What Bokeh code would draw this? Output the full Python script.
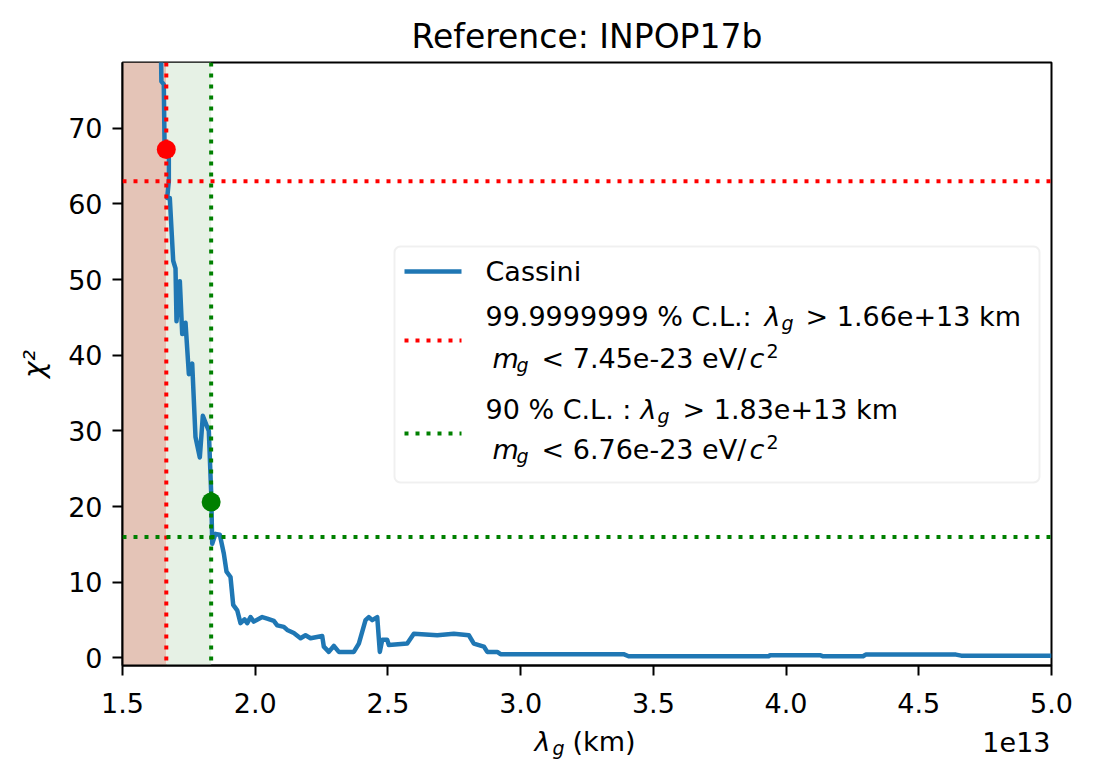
from bokeh.plotting import figure
from bokeh.models import Span, BoxAnnotation, Label, FixedTicker, NumeralTickFormatter, Range1d
from bokeh.layouts import column
from bokeh.core.properties import value
from bokeh.embed import file_html
from bokeh.resources import INLINE

# ---------------- data ----------------
# lambda_g in units of 1e13 km
lam_1e13 = [1.640, 1.6455, 1.6465, 1.6556, 1.6583, 1.6745, 1.6745, 1.6684, 1.6782, 1.6910,
            1.6997, 1.7035, 1.7160, 1.7250, 1.7374, 1.7500, 1.7626, 1.7750, 1.7913, 1.8026,
            1.8252, 1.8342, 1.8380, 1.8504, 1.8666, 1.8817, 1.8919, 1.9069, 1.9171, 1.9322,
            1.9446, 1.9597, 1.9699, 1.9823, 1.9947, 2.0264, 2.0452, 2.0701, 2.0829, 2.1078,
            2.1206, 2.1454, 2.1707, 2.1895, 2.2084, 2.2524, 2.2585, 2.2773, 2.2962, 2.3150,
            2.3715, 2.3904, 2.4156, 2.4280, 2.4408, 2.4597, 2.4695, 2.4785, 2.4974, 2.5034,
            2.5727, 2.5976, 2.6858, 2.7483, 2.8048, 2.8237, 2.8614, 2.8742, 2.9118, 2.9243,
            3.3877, 3.4066, 3.9340, 3.9400, 4.1300, 4.1400, 4.2900, 4.3000, 4.6400, 4.6600,
            5.0000]
chi2 = [84.0, 78.8, 76.2, 75.8, 68.2, 66.0, 63.0, 60.8, 60.8, 52.5,
        51.5, 44.5, 49.8, 42.8, 44.3, 37.5, 38.9, 29.2, 26.5, 32.0,
        30.0, 21.7, 15.1, 16.4, 16.3, 13.8, 11.4, 10.7, 7.0, 6.3,
        4.6, 5.1, 4.6, 5.4, 4.8, 5.4, 5.2, 4.9, 4.3, 4.1,
        3.7, 3.3, 2.6, 3.0, 2.6, 2.9, 1.5, 0.8, 1.6, 0.8,
        0.8, 1.9, 5.0, 5.4, 5.0, 5.4, 0.8, 2.4, 2.4, 1.7,
        1.9, 3.2, 3.0, 3.2, 3.0, 1.9, 1.5, 0.8, 0.8, 0.5,
        0.5, 0.22, 0.22, 0.35, 0.35, 0.22, 0.22, 0.44, 0.44, 0.3,
        0.3]

cl_names = ["99.9999999 % C.L.:", "90 % C.L. :"]
cl_lambda = [1.665, 1.834]          # 1e13 km
cl_lambda_text = ["1.66e+13", "1.83e+13"]
cl_mass_text = ["7.45e-23", "6.76e-23"]
cl_threshold = [63.0, 16.0]         # chi2 threshold
cl_point_chi2 = [67.2, 20.6]
cl_colors = ["red", "green"]
shade_colors = ["#e4c4b7", "#e6f1e5"]

x_ticks = [1.5, 2.0, 2.5, 3.0, 3.5, 4.0, 4.5, 5.0]
y_ticks = [0, 10, 20, 30, 40, 50, 60, 70]
X0, X1 = 1.5, 5.0
Y0, Y1 = -1.0, 78.7

title_text = "Reference: INPOP17b"
y_label_text = "χ²"
x_offset_text = "1e13"

FONT = "DejaVu Sans"
BASE_SHIFT = 0.32   # correction so that the given y is the alphabetic baseline

# ---------------- layout (page pixels) ----------------
TOTAL_W = 1090
TOTAL_H = 775
TITLE_H = 60
MAIN_TOP, MAIN_BOTTOM = 60, 724
FRAME_L, FRAME_R, FRAME_T, FRAME_B = 122, 1051, 62, 665
MAIN_H = MAIN_BOTTOM - MAIN_TOP
XLAB_H = TOTAL_H - MAIN_BOTTOM


def DX(px):
    return X0 + (px - FRAME_L) * (X1 - X0) / (FRAME_R - FRAME_L)


def DY(py):
    return Y1 - (py - FRAME_T) * (Y1 - Y0) / (FRAME_B - FRAME_T)


p = figure(width=TOTAL_W, height=MAIN_H, x_range=Range1d(X0, X1), y_range=Range1d(Y0, Y1),
           output_backend="svg", toolbar_location=None,
           min_border_left=FRAME_L, min_border_right=TOTAL_W - FRAME_R,
           min_border_top=FRAME_T - MAIN_TOP, min_border_bottom=MAIN_BOTTOM - FRAME_B)
p.background_fill_color = "white"
p.border_fill_color = "white"
p.outline_line_color = "black"
p.outline_line_width = 2
p.outline_line_alpha = 1.0
p.xgrid.visible = False
p.ygrid.visible = False

p.xaxis.ticker = FixedTicker(ticks=x_ticks)
p.xaxis.formatter = NumeralTickFormatter(format="0.0")
p.yaxis.ticker = FixedTicker(ticks=y_ticks)
for ax in (p.xaxis[0], p.yaxis[0]):
    ax.major_label_text_font = FONT
    ax.major_label_text_font_size = "27px"
    ax.major_label_text_color = "black"
    ax.axis_line_color = "black"
    ax.axis_line_width = 2
    ax.major_tick_line_color = "black"
    ax.major_tick_line_width = 2
    ax.major_tick_out = 10
    ax.major_tick_in = 0
    ax.minor_tick_out = 0
    ax.minor_tick_in = 0
    ax.minor_tick_line_color = None
p.xaxis[0].major_label_standoff = 17
p.yaxis[0].major_label_standoff = 10
p.yaxis[0].axis_label = y_label_text
p.yaxis[0].axis_label_text_font = FONT
p.yaxis[0].axis_label_text_font_size = "28px"
p.yaxis[0].axis_label_text_font_style = "italic"
p.yaxis[0].axis_label_text_color = "black"
p.yaxis[0].axis_label_standoff = 14

# shaded regions
p.add_layout(BoxAnnotation(right=cl_lambda[0], fill_color=shade_colors[0], fill_alpha=1.0,
                           line_color=None, level="underlay"))
p.add_layout(BoxAnnotation(left=cl_lambda[0], right=cl_lambda[1], fill_color=shade_colors[1],
                           fill_alpha=1.0, line_color=None, level="underlay"))

# curve
p.line(lam_1e13, chi2, line_color="#1f77b4", line_width=4.5, line_join="round")

# confidence level lines
for lam, thr, col in zip(cl_lambda, cl_threshold, cl_colors):
    p.add_layout(Span(location=lam, dimension="height", line_color=col, line_dash="4 7", line_width=4))
    p.add_layout(Span(location=thr, dimension="width", line_color=col, line_dash="4 7", line_width=4))

p.scatter(cl_lambda, cl_point_chi2, size=19, color=cl_colors, line_color=None)

# ---------------- legend (manual) ----------------
box_kw = dict(left=DX(394), right=DX(1039), top=DY(246), bottom=DY(482),
              fill_color="white", fill_alpha=0.85, line_color="#cccccc", line_width=2,
              level="underlay")
if "border_radius" in BoxAnnotation.properties():
    box_kw["border_radius"] = 6
p.add_layout(BoxAnnotation(**box_kw))

p.line([DX(404), DX(461)], [DY(271), DY(271)], line_color="#1f77b4", line_width=4.5)
p.line([DX(404), DX(461)], [DY(340), DY(340)], line_color=cl_colors[0], line_width=4, line_dash="4 7")
p.line([DX(404), DX(461)], [DY(433), DY(433)], line_color=cl_colors[1], line_width=4, line_dash="4 7")


def txt(s, px, py, size=27, style="normal", align="left"):
    py = py - BASE_SHIFT * size
    p.add_layout(Label(x=DX(px), y=DY(py), text=s, text_font=FONT, text_font_size=f"{size}px",
                       text_font_style=style, text_align=align, text_baseline="alphabetic",
                       text_color="black"))


txt("Cassini", 485, 280)
# entry 1
txt(cl_names[0], 485, 325)
txt("λ", 764, 325, style="italic")
txt("g", 781, 329, size=19, style="italic")
txt(f"> {cl_lambda_text[0]} km", 805, 325)
txt("m", 492, 367, style="italic")
txt("g", 516, 371, size=19, style="italic")
txt(f"< {cl_mass_text[0]} eV/", 541, 367)
txt("c", 749, 367, style="italic")
txt("2", 766, 357, size=19)
# entry 2
txt(cl_names[1], 485, 418)
txt("λ", 640, 418, style="italic")
txt("g", 657, 422, size=19, style="italic")
txt(f"> {cl_lambda_text[1]} km", 682, 418)
txt("m", 492, 458, style="italic")
txt("g", 516, 462, size=19, style="italic")
txt(f"< {cl_mass_text[1]} eV/", 541, 458)
txt("c", 749, 458, style="italic")
txt("2", 766, 448, size=19)


# ---------------- strips for title and x-axis label ----------------
# (in a column Bokeh aligns the strips' frames with the main frame: FRAME_L..FRAME_R)
def strip(h):
    f = figure(width=TOTAL_W, height=h, x_range=Range1d(FRAME_L, FRAME_R), y_range=Range1d(0, h),
               x_axis_type=None, y_axis_type=None, toolbar_location=None,
               output_backend="svg", min_border=0,
               min_border_left=FRAME_L, min_border_right=TOTAL_W - FRAME_R)
    f.outline_line_color = None
    f.background_fill_color = "white"
    f.border_fill_color = "white"
    return f


def stext(f, top, h, s, px, py, size=27, style="normal", align="left"):
    py = py - BASE_SHIFT * size
    f.text(x=[px], y=[top + h - py], text=[s], text_font=value(FONT),
           text_font_size=f"{size}px", text_font_style=style, text_align=align,
           text_baseline="alphabetic", text_color="black")


title_f = strip(TITLE_H)
stext(title_f, 0, TITLE_H, title_text, (FRAME_L + FRAME_R) / 2, 47, size=33, align="center")

xlab_f = strip(XLAB_H)
stext(xlab_f, MAIN_BOTTOM, XLAB_H, "λ", 534, 750, style="italic")
stext(xlab_f, MAIN_BOTTOM, XLAB_H, "g", 552, 754, size=19, style="italic")
stext(xlab_f, MAIN_BOTTOM, XLAB_H, "(km)", 572, 750)
stext(xlab_f, MAIN_BOTTOM, XLAB_H, x_offset_text, FRAME_R - 1, 750, align="right")

layout = column(title_f, p, xlab_f)
open("out.html", "w").write(file_html(layout, INLINE))
